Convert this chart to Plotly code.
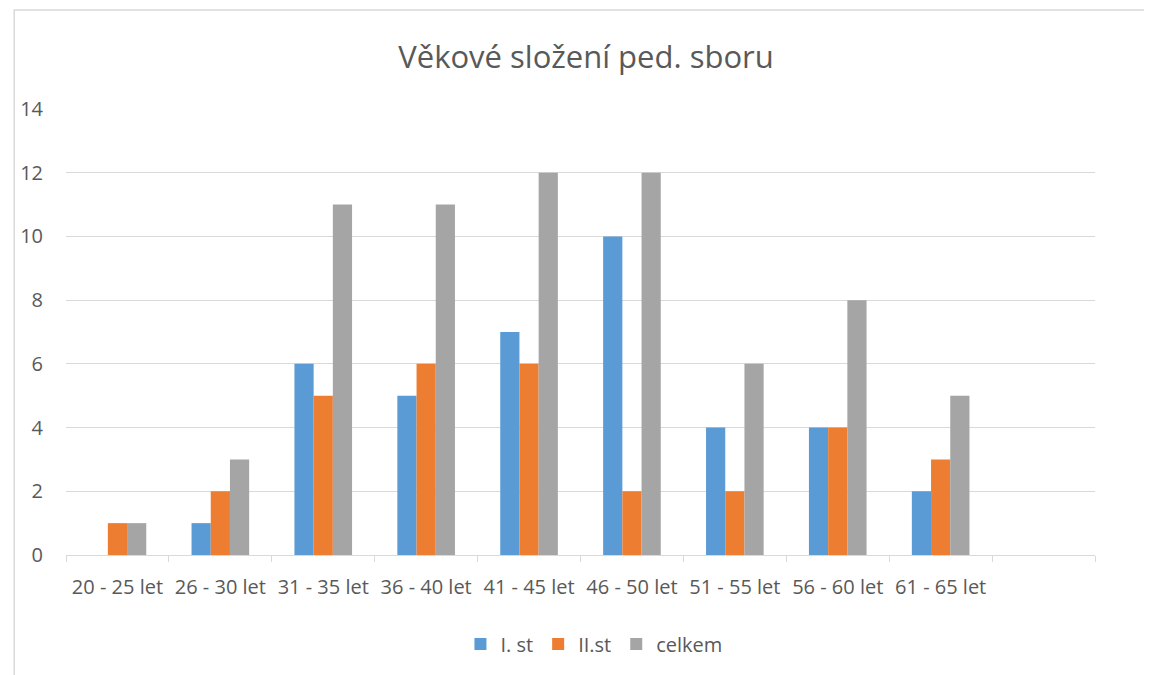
import plotly.graph_objects as go

categories = ["20 - 25 let", "26 - 30 let", "31 - 35 let", "36 - 40 let", "41 - 45 let",
              "46 - 50 let", "51 - 55 let", "56 - 60 let", "61 - 65 let", " "]
first_stage = [0, 1, 6, 5, 7, 10, 4, 4, 2, None]
second_stage = [1, 2, 5, 6, 6, 2, 2, 4, 3, None]
total = [1, 3, 11, 11, 12, 12, 6, 8, 5, None]
series_names = ["I. st", "II.st", "celkem"]
colors = ["#5B9BD5", "#ED7D31", "#A5A5A5"]

font = "Open Sans"
txt = "#595959"

fig = go.Figure()
for name, vals, c in zip(series_names, [first_stage, second_stage, total], colors):
    fig.add_trace(go.Bar(x=categories, y=vals, name=name, marker=dict(color=c, line=dict(width=0))))

# page has an 8px body margin; work in page coords and shift
OFF = 8
W, H = 1152 - OFF, 675 - OFF
L, R, T, B = 62 - OFF, 1095 - OFF, 109 - OFF, 555 - OFF
pw, ph = R - L, B - T

fig.update_layout(
    width=W, height=H,
    margin=dict(l=L, r=W - R, t=T, b=H - B),
    paper_bgcolor="white", plot_bgcolor="white",
    barmode="group", bargap=0.44, bargroupgap=0,
    font=dict(family=font, color=txt, size=20),
    title=dict(text="Věkové složení ped. sboru", x=(586 - OFF) / W, xref="container", xanchor="center",
               y=1 - (57 - OFF) / H, yref="container", yanchor="middle",
               font=dict(size=31, color=txt, family=font)),
    legend=dict(orientation="h", x=(592 - 62) / pw, xanchor="center", y=(B - (644 - OFF)) / ph, yanchor="middle",
                font=dict(size=20, color=txt), itemwidth=30, traceorder="normal"),
    xaxis=dict(type="category", tickson="boundaries", ticks="outside", ticklen=6,
               tickcolor="#d9d9d9", showline=True, linecolor="#d9d9d9", linewidth=1,
               showgrid=False, tickfont=dict(size=20, color=txt), tickangle=0,
               ticklabelstandoff=14, range=[-0.5, 9.5]),
    yaxis=dict(range=[0, 14], dtick=2, showgrid=True, gridcolor="#d9d9d9", gridwidth=1,
               zeroline=False, showline=False, tickfont=dict(size=20, color=txt),
               ticklabelstandoff=22),
    shapes=[dict(type="rect", xref="paper", yref="paper",
                 x0=(10 - 62) / pw, x1=(1172 - 62) / pw,
                 y0=(555 - 700) / ph, y1=1 + (109 - 10) / ph,
                 line=dict(color="#d9d9d9", width=1.5), fillcolor="rgba(0,0,0,0)", layer="below")],
)

fig.write_html("out.html")
